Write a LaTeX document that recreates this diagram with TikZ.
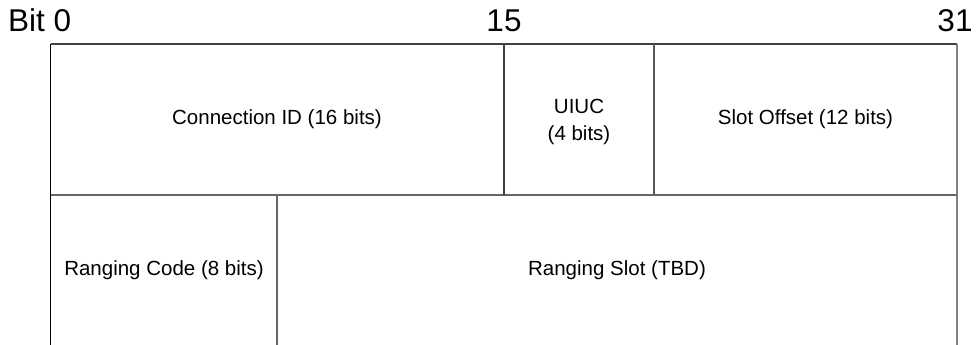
\documentclass[tikz,border=0pt]{standalone}
\usepackage{fontspec}
\setmainfont{Liberation Sans}
\begin{document}
\begin{tikzpicture}[x=1pt,y=-1pt,
  cell/.style={font=\fontsize{20.5}{27}\selectfont, align=center, inner sep=0pt},
  hdr/.style={font=\fontsize{31.5}{36}\selectfont, inner sep=0pt, anchor=base},
  frame/.style={line width=1.4pt, draw=black!75},
  frameg/.style={line width=2pt, draw=black!60}]
\useasboundingbox (0,0) rectangle (977,345);
% header labels
\node[hdr, anchor=base west] (b0) at (8,32) {Bit 0};
\node[hdr] (b15) at (504,32) {15};
\node[hdr] (b31) at (955,32) {31};
% grid lines
\coordinate (tl) at (50.5,44);
\coordinate (tr) at (957,44);
\coordinate (bl) at (50.5,345);
\coordinate (br) at (957,345);
\coordinate (ml) at (50.5,195);
\coordinate (mr) at (957,195);
\draw[line width=1.4pt, draw=black] (tl) -- (bl);
\draw[frame] (tl) -- (tr);
\draw[line width=1.6pt, draw=black!50] (tr) -- (br);
\draw[frameg] (ml) -- (mr);
\coordinate (d15t) at (504,44); \coordinate (d15b) at (504,195);
\coordinate (d20t) at (654,44); \coordinate (d20b) at (654,195);
\coordinate (d8t) at (277,195); \coordinate (d8b) at (277,345);
\draw[frame] (d15t) -- (d15b);
\draw[frame, draw=black!65] (d20t) -- (d20b);
\draw[frameg] (d8t) -- (d8b);
% cell texts
\node[cell] (cid) at (277,119.5) {Connection ID (16 bits)};
\node[cell] (uiuc) at (579,122) {UIUC\\(4 bits)};
\node[cell] (so) at (805.5,119.5) {Slot Offset (12 bits)};
\node[cell] (rc) at (164,270) {Ranging Code (8 bits)};
\node[cell] (rs) at (617,270) {Ranging Slot (TBD)};
\end{tikzpicture}
\end{document}
